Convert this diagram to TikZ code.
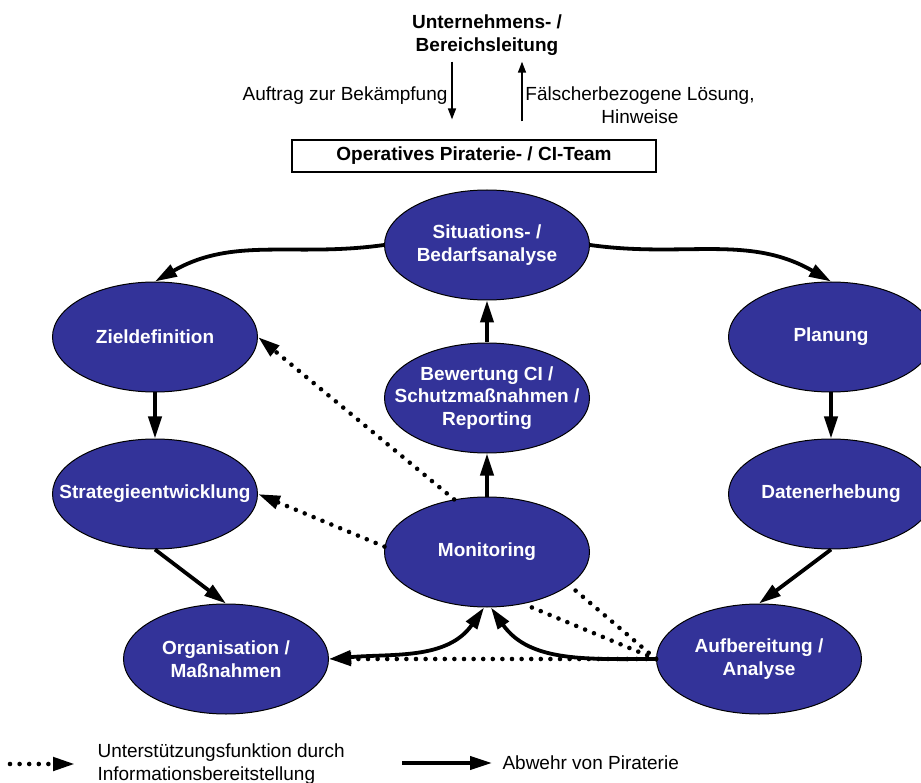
\documentclass[tikz,border=0pt]{standalone}
\usepackage{fontspec}
\setmainfont{Liberation Sans}
\usepackage{xcolor}
\usetikzlibrary{shapes.geometric}
\usetikzlibrary{arrows.meta}
\usetikzlibrary{positioning}
\definecolor{phaseblue}{RGB}{51,51,153}

\begin{document}
\begin{tikzpicture}[x=1pt, y=1pt, >={Triangle[length=22pt, width=13pt]}]
        \tikzset{
            every node/.style={
                align=center,
                font=\fontsize{19}{22.5}\selectfont,
            },
            phase/.style={ellipse, draw, line width=1pt, fill=phaseblue,
                minimum width=205pt, minimum height=110pt, inner sep=0pt},
            phasetext/.style={text=white, font=\fontsize{19}{22.5}\selectfont\bfseries},
            headline/.style={font=\fontsize{19}{22.5}\selectfont\bfseries},
            defense/.style={line width=3.8pt},
            support/.style={line width=4.6pt, line cap=round, dash pattern=on 0pt off 9.6pt},
            order/.style={line width=1.5pt, -{Triangle[length=11pt, width=8pt]}}
        }
        \useasboundingbox (0,0) rectangle (921,-783);

        \node[headline] (leitung) at (487,-35) {Unternehmens- /\\Bereichsleitung};
        \node[headline, draw, line width=1.2pt, minimum width=364pt, minimum height=32pt, inner sep=0pt] (team) at (474,-156) {Operatives Piraterie- / CI-Team};
        \coordinate (orderdown) at ([xshift=-35pt]leitung.south);
        \coordinate (orderup) at ([xshift=35pt]leitung.south);
        \draw[order, shorten <=3pt, shorten >=20pt] (orderdown) -- (orderdown |- team.north);
        \draw[order, shorten <=18pt, shorten >=3pt] (orderup |- team.north) -- (orderup);
        \node[anchor=east] (auftrag) at (451,-96) {Auftrag zur Bekämpfung};
        \node (loesung) at (640,-105) {Fälscherbezogene Lösung,\\Hinweise};

        \node[phase, label={[phasetext]center:Situations- /\\Bedarfsanalyse}] (situation) at (487,-245) {};
        \node[phase, label={[phasetext]center:Zieldefinition}] (ziel) at (155,-337) {};
        \node[phase, label={[phasetext]center:Planung}] (planung) at (831,-337) {};
        \node[phase, label={[phasetext]center:Bewertung CI /\\Schutzmaßnahmen /\\Reporting}] (bewertung) at (487,-398) {};
        \node[phase, label={[phasetext]center:Strategieentwicklung}] (strategie) at (155,-494) {};
        \node[phase, label={[phasetext]center:Datenerhebung}] (daten) at (831,-494) {};
        \node[phase, label={[phasetext]center:Monitoring}] (monitoring) at (487,-552) {};
        \node[phase, label={[phasetext]center:Organisation /\\Maßnahmen}] (organisation) at (226,-659) {};
        \node[phase, label={[phasetext]center:Aufbereitung /\\Analyse}] (aufbereitung) at (759,-659) {};

        \draw[defense, ->] (situation.west) to[out=188, in=30] (ziel.north);
        \draw[defense, ->] (situation.east) to[out=-8, in=150] (planung.north);
        \draw[defense, ->] (ziel) -- (strategie);
        \draw[defense, ->] (planung) -- (daten);
        \draw[defense, ->] (bewertung) -- (situation);
        \draw[defense, ->] (monitoring) -- (bewertung);
        \draw[defense, ->] (strategie.south) -- (organisation.north);
        \draw[defense, ->] (daten.south) -- (aufbereitung.north);
        \draw[defense, <->] (organisation.east) to[out=5, in=235] (monitoring.-93);
        \draw[defense, ->] (aufbereitung.west) to[out=180, in=-55] (monitoring.-86);

        \draw[support, ->] (monitoring.122) -- (ziel.east);
        \draw[support, ->] (monitoring.177) -- (strategie.east);
        \draw[support, ->] (aufbereitung.west) -- (organisation.east);
        \draw[support] (aufbereitung.west) -- (monitoring.-22);
        \draw[support] (aufbereitung.west) -- (monitoring.-55);

        \coordinate (supportstart) at (10,-764);
        \node[anchor=west, align=left] (supportkey) at (94,-764) {Unterstützungsfunktion durch\\Informationsbereitstellung};
        \draw[support, ->, shorten >=19pt] (supportstart) -- (supportkey.west);
        \coordinate (defensestart) at (402,-763);
        \node[anchor=west] (defensekey) at (499,-763) {Abwehr von Piraterie};
        \draw[defense, ->, shorten >=7pt] (defensestart) -- (defensekey.west);
    \end{tikzpicture}
\end{document}
